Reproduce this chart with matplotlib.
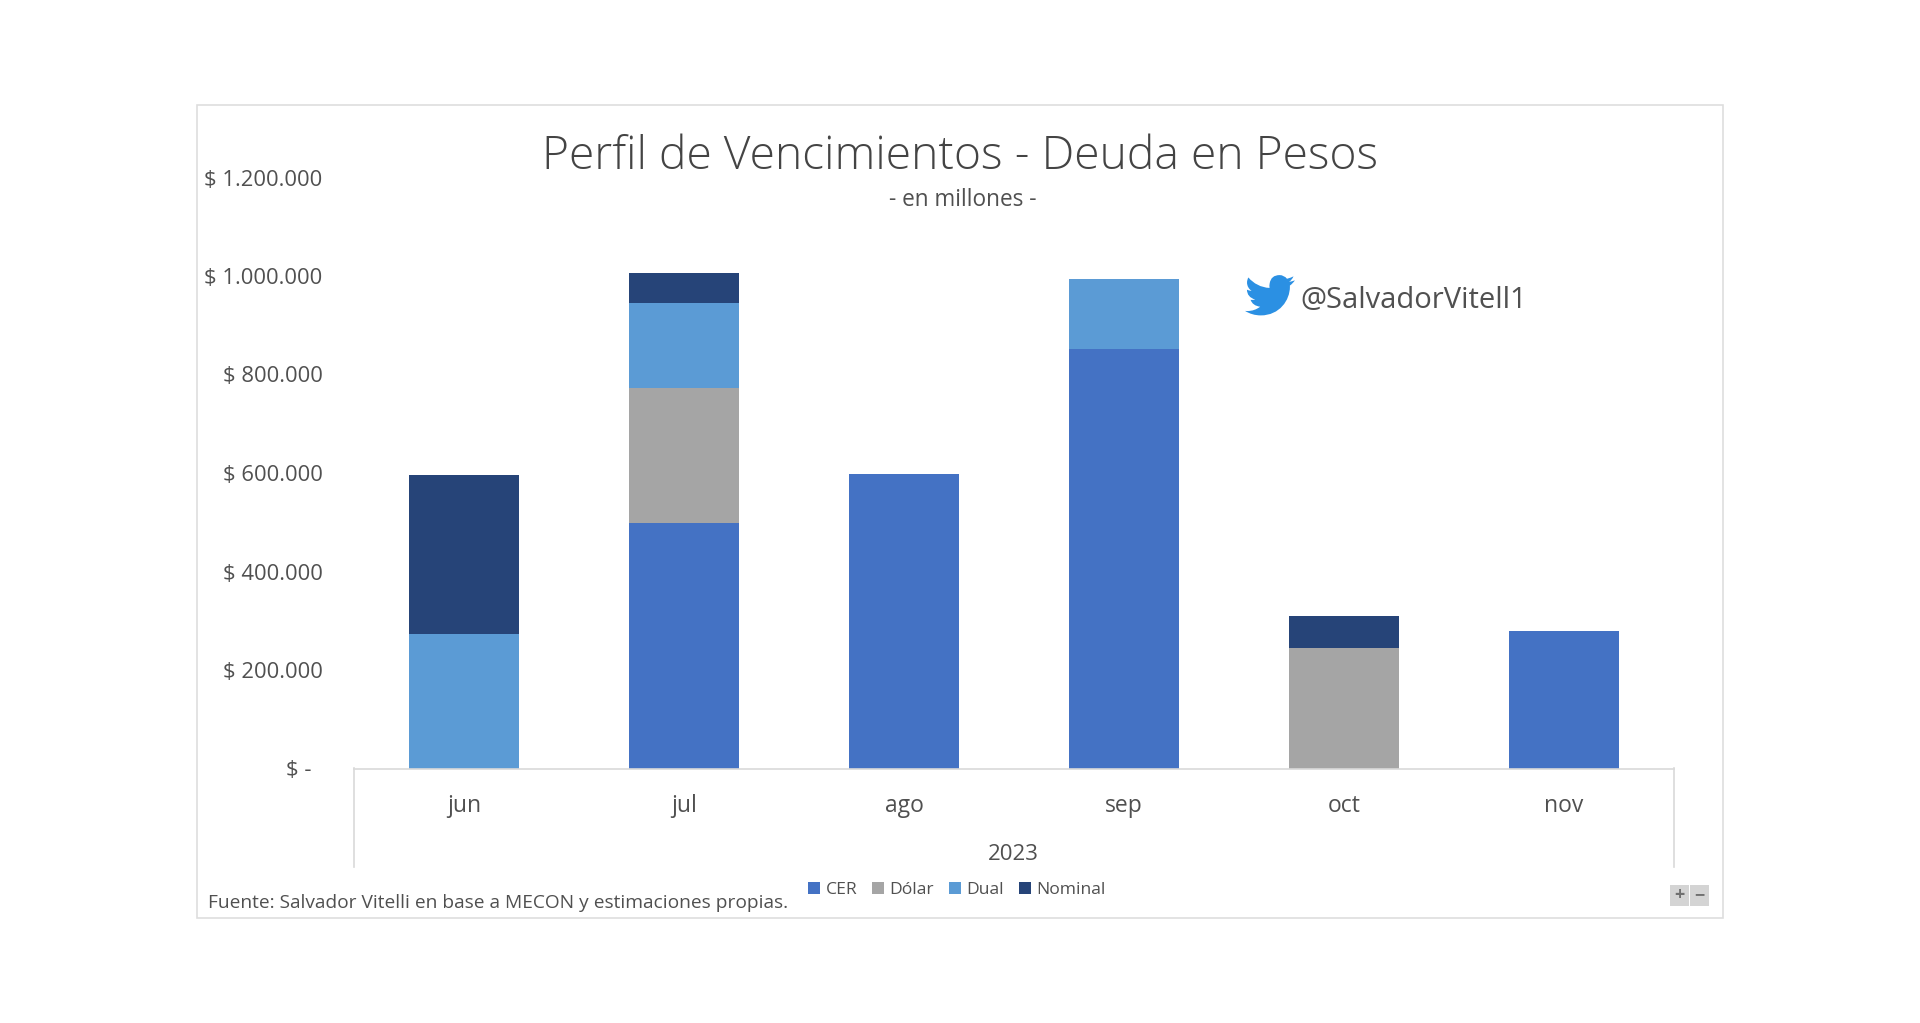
import matplotlib
matplotlib.use("Agg")
import matplotlib.pyplot as plt
import numpy as np
from matplotlib.patches import Rectangle, PathPatch
from matplotlib.path import Path
from matplotlib.lines import Line2D

plt.rcParams['font.family'] = ['Open Sans', 'Noto Sans', 'DejaVu Sans']

months = ["jun", "jul", "ago", "sep", "oct", "nov"]
series_names = ["CER", "Dólar", "Dual", "Nominal"]
cer = [0, 498000, 597000, 851000, 0, 279000]
dolar = [0, 274000, 0, 0, 244000, 0]
dual = [274000, 174000, 0, 142000, 0, 0]
nominal = [321000, 60000, 0, 0, 65000, 0]
colors = ["#4472C4", "#A5A5A5", "#5B9BD5", "#264478"]
yticks = [0, 200000, 400000, 600000, 800000, 1000000, 1200000]
ytick_labels = ["$ -  ", "$ 200.000", "$ 400.000", "$ 600.000", "$ 800.000", "$ 1.000.000", "$ 1.200.000"]

W, H = 1920, 1023
TXT = "#505050"
fig = plt.figure(figsize=(W / 100, H / 100), dpi=100, facecolor="white")

# full-figure overlay in pixel coordinates
ov = fig.add_axes([0, 0, 1, 1], zorder=3)
ov.set_xlim(0, W)
ov.set_ylim(H, 0)
ov.axis("off")
ov.patch.set_alpha(0)

ax = fig.add_axes([354 / W, 1 - 768.5 / H, (1674 - 354) / W, (768.5 - 177.5) / H], zorder=2)
ax.patch.set_alpha(0)
x = np.arange(len(months))
bottom = np.zeros(len(months))
handles = []
for name, vals, c in zip(series_names, [cer, dolar, dual, nominal], colors):
    b = ax.bar(x, vals, width=0.5, bottom=bottom, color=c, label=name)
    handles.append(b)
    bottom += np.array(vals)
ax.set_xlim(-0.5, 5.5)
ax.set_ylim(0, 1200000)
ax.set_yticks(yticks)
ax.set_yticklabels(ytick_labels, fontsize=15.8, color=TXT)
ax.set_xticks(x)
ax.set_xticklabels(months, fontsize=16.5, color=TXT)
ax.tick_params(axis="both", length=0)
ax.tick_params(axis="y", pad=22.5)
ax.tick_params(axis="x", pad=18.2)
for s in ["top", "right", "left"]:
    ax.spines[s].set_visible(False)
ax.spines["bottom"].set_color("#D9D9D9")
ax.spines["bottom"].set_linewidth(1.2)

# multi-level axis separators and outer frame
for px in (354, 1674):
    ov.add_line(Line2D([px, px], [768, 867], color="#D9D9D9", lw=1.2))
ov.add_patch(Rectangle((196.5, 104.5), 1526, 813, fill=False, ec="#DEDEDE", lw=1.2))

ov.text(960, 157, "Perfil de Vencimientos - Deuda en Pesos", fontsize=33.3,
        color="#444444", ha="center", va="center", fontweight="light")
ov.text(963, 200.5, "- en millones -", fontsize=16.3, color=TXT, ha="center", va="center")
ov.text(1013, 855, "2023", fontsize=16, color=TXT, ha="center", va="center")
ov.text(208, 903.5, "Fuente: Salvador Vitelli en base a MECON y estimaciones propias.",
        fontsize=13.75, color=TXT, ha="left", va="center")
ov.text(1300, 300, "@SalvadorVitell1", fontsize=21, color="#505050", ha="left", va="center")

leg = fig.legend(handles=handles, labels=series_names, loc="center", ncol=4, frameon=False,
                 bbox_to_anchor=(957 / W, 1 - 890 / H), fontsize=12.6, labelcolor=TXT,
                 handlelength=0.7, handleheight=0.7, handletextpad=0.3, columnspacing=0.85)

# Twitter bird logo
MO, C3, C4, CL = Path.MOVETO, Path.CURVE3, Path.CURVE4, Path.CLOSEPOLY
bird = [
    (MO, [(23.95, 4.57)]),
    (C3, [(22.6, 5.1), (21.13, 5.35)]),
    (C3, [(22.4, 4.6), (23.29, 2.62)]),
    (C3, [(22.3, 3.2), (20.16, 3.81)]),
    (C3, [(18.8, 2.0), (16.6, 2.0)]),
    (C3, [(12.5, 2.0), (11.85, 6.0)]),
    (C3, [(11.6, 7.2), (11.78, 8.29)]),
    (C4, [(7.69, 8.095), (4.067, 6.13), (1.64, 3.162)]),
    (C3, [(0.97, 4.2), (0.974, 5.637)]),
    (C4, [(0.974, 7.347), (1.844, 8.85), (3.162, 9.733)]),
    (C3, [(2.0, 9.7), (0.934, 9.117)]),
    (C3, [(0.95, 12.8), (4.88, 14.0)]),
    (C3, [(3.8, 14.3), (2.668, 14.09)]),
    (C3, [(3.6, 17.0), (7.272, 17.5)]),
    (C3, [(4.6, 19.6), (1.17, 19.61)]),
    (C3, [(0.6, 19.6), (0.0, 19.54)]),
    (C3, [(3.4, 21.75), (7.557, 21.75)]),
    (C4, [(16.61, 21.75), (21.555, 14.25), (21.555, 7.77)]),
    (C3, [(21.55, 7.4), (21.54, 7.14)]),
    (C3, [(23.0, 6.1), (23.95, 4.57)]),
]
verts, codes = [], []
for code, pts in bird:
    for p in pts:
        verts.append((1245 + p[0] * 50 / 24, 271 + p[1] * 49 / 24))
        codes.append(code)
verts.append(verts[0])
codes.append(CL)
ov.add_patch(PathPatch(Path(verts, codes), fc="#2B90E3", ec="none"))

# zoom buttons
for bx, sym in ((1670, "+"), (1690, "−")):
    ov.add_patch(Rectangle((bx, 885), 19, 21, fc="#D4D4D4", ec="none"))
    ov.text(bx + 9.5, 895, sym, fontsize=13, fontweight="bold", color="#707070", ha="center", va="center")

fig.savefig("out.png", dpi=100, facecolor="white")
